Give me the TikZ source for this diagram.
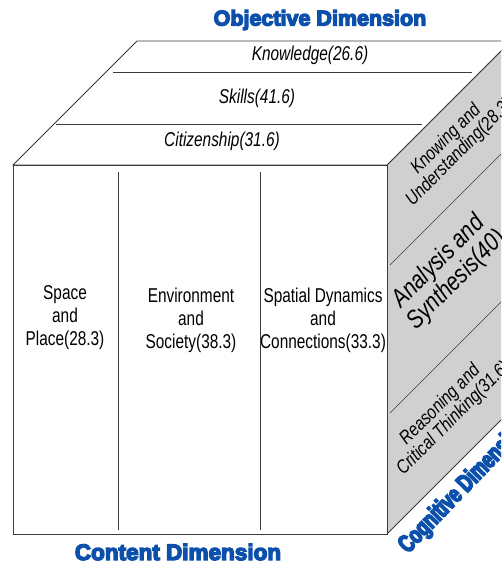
\documentclass[tikz,border=0pt]{standalone}
\usepackage{fontspec}
\setmainfont{Liberation Sans}
\newfontfamily\narrowfont[FakeStretch=0.77]{Liberation Sans}
\newfontfamily\sidefont[FakeStretch=0.82]{Liberation Sans}
\newfontfamily\titlefont[FakeBold=6]{Liberation Sans Bold}
\newfontfamily\cogfont[FakeStretch=0.7,FakeBold=6]{Liberation Sans Bold}
\usepackage{tikz}
\definecolor{edgegray}{RGB}{60,60,60}
\definecolor{sidegray}{RGB}{208,208,208}
\definecolor{dimblue}{RGB}{12,80,172}
\tikzset{
  edge/.style={draw=edgegray, line width=0.8pt},
  divider/.style={draw=edgegray, line width=0.6pt},
  toplabel/.style={font=\narrowfont\itshape\fontsize{20}{22}\selectfont},
  frontlabel/.style={align=center, font=\narrowfont\fontsize{20}{23}\selectfont},
  sidelabel/.style={rotate=45, align=center, font=\sidefont\itshape\fontsize{19}{19}\selectfont},
  bigside/.style={rotate=45, align=center, font=\sidefont\itshape\fontsize{25.5}{26}\selectfont},
  dimlabel/.style={text=dimblue, font=\titlefont\fontsize{21.5}{24}\selectfont}
}

\begin{document}
\begin{tikzpicture}[x=1pt, y=-1pt]
  \useasboundingbox (0,0) rectangle (501,565);
  \clip (0,0) rectangle (501,565);

  % cube corners
  \coordinate (fbl) at (13,534);
  \coordinate (fbr) at (387,534);
  \coordinate (ftr) at (387,165);
  \coordinate (ftl) at (13,165);
  \coordinate (btl) at (137,41);
  \coordinate (btr) at (511,41);
  \coordinate (bbr) at (511,410);

  % right face
  \path[edge, fill=sidegray] (fbr) -- (ftr) -- (btr) -- (bbr) -- cycle;
  \draw[divider] (390,265) -- (514,141);
  \draw[divider] (390,413) -- (514,289);

  % top face
  \path[edge, fill=white] (ftl) -- (btl) -- (btr) -- (ftr) -- cycle;
  \draw[divider] (56,124) -- (422,124);
  \draw[divider] (113,72) -- (472,72);

  % front face
  \path[edge, fill=white] (ftl) rectangle (fbr);
  \draw[divider] (118,172) -- (118,530);
  \draw[divider] (260,172) -- (260,530);

  \node[toplabel] (know) at (310,55) {Knowledge(26.6)};
  \node[toplabel] (skill) at (257,98) {Skills(41.6)};
  \node[toplabel] (citiz) at (222,141) {Citizenship(31.6)};

  \node[frontlabel] (space) at (65,318) {Space\\and\\Place(28.3)};
  \node[frontlabel] (envir) at (191,320) {Environment\\and\\Society(38.3)};
  \node[frontlabel] (spdyn) at (323,320) {Spatial Dynamics\\and\\Connections(33.3)};

  \node[sidelabel] (knowing) at (453,146) {Knowing and\\Understanding(28.3)};
  \node[bigside] (analys) at (448,271) {Analysis and\\Synthesis(40)};
  \node[sidelabel] (reason) at (447,412) {Reasoning and\\Critical Thinking(31.6)};

  \node[dimlabel] (objdim) at (320,20) {Objective Dimension};
  \node[dimlabel, font=\titlefont\fontsize{22.5}{24}\selectfont] (condim) at (178,552) {Content Dimension};
  \node[dimlabel, rotate=46, font=\cogfont\fontsize{25}{27}\selectfont] (cogdim) at (464,487) {Cognitive Dimension};
\end{tikzpicture}
\end{document}
